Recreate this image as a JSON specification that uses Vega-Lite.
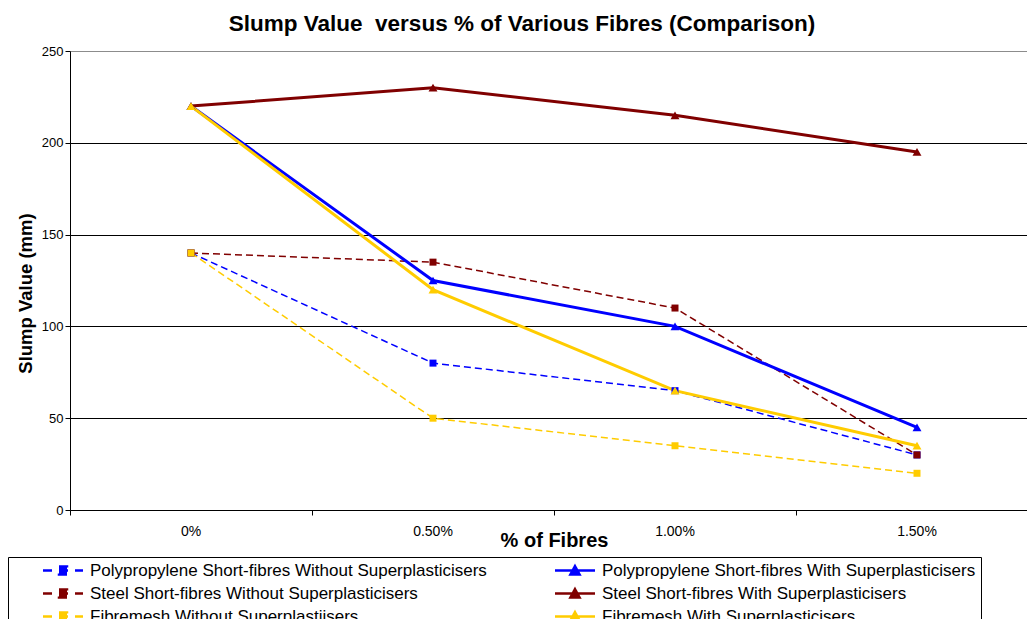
{
  "$schema": "https://vega.github.io/schema/vega-lite/v6.json",
  "width": 957,
  "height": 459,
  "autosize": {"type": "none"},
  "padding": {"left": 70, "top": 51, "right": 0, "bottom": 109},
  "background": "white",
  "config": {
    "font": "Liberation Sans",
    "view": {"stroke": null}
  },
  "title": {
    "text": "Slump Value\u00a0 versus % of Various Fibres (Comparison)",
    "font": "Liberation Sans",
    "fontSize": 22.5,
    "fontWeight": "bold",
    "color": "black",
    "anchor": "middle",
    "frame": "group",
    "dx": -26.5,
    "offset": 10
  },
  "data": {
    "values": [
      {"series": "Polypropylene Short-fibres Without Superplasticisers", "pct": "0%", "slump": 140},
      {"series": "Polypropylene Short-fibres Without Superplasticisers", "pct": "0.50%", "slump": 80},
      {"series": "Polypropylene Short-fibres Without Superplasticisers", "pct": "1.00%", "slump": 65},
      {"series": "Polypropylene Short-fibres Without Superplasticisers", "pct": "1.50%", "slump": 30},
      {"series": "Polypropylene Short-fibres With Superplasticisers", "pct": "0%", "slump": 220},
      {"series": "Polypropylene Short-fibres With Superplasticisers", "pct": "0.50%", "slump": 125},
      {"series": "Polypropylene Short-fibres With Superplasticisers", "pct": "1.00%", "slump": 100},
      {"series": "Polypropylene Short-fibres With Superplasticisers", "pct": "1.50%", "slump": 45},
      {"series": "Steel Short-fibres Without Superplasticisers", "pct": "0%", "slump": 140},
      {"series": "Steel Short-fibres Without Superplasticisers", "pct": "0.50%", "slump": 135},
      {"series": "Steel Short-fibres Without Superplasticisers", "pct": "1.00%", "slump": 110},
      {"series": "Steel Short-fibres Without Superplasticisers", "pct": "1.50%", "slump": 30},
      {"series": "Steel Short-fibres With Superplasticisers", "pct": "0%", "slump": 220},
      {"series": "Steel Short-fibres With Superplasticisers", "pct": "0.50%", "slump": 230},
      {"series": "Steel Short-fibres With Superplasticisers", "pct": "1.00%", "slump": 215},
      {"series": "Steel Short-fibres With Superplasticisers", "pct": "1.50%", "slump": 195},
      {"series": "Fibremesh Without Superplastiisers", "pct": "0%", "slump": 140},
      {"series": "Fibremesh Without Superplastiisers", "pct": "0.50%", "slump": 50},
      {"series": "Fibremesh Without Superplastiisers", "pct": "1.00%", "slump": 35},
      {"series": "Fibremesh Without Superplastiisers", "pct": "1.50%", "slump": 20},
      {"series": "Fibremesh With Superplasticisers", "pct": "0%", "slump": 220},
      {"series": "Fibremesh With Superplasticisers", "pct": "0.50%", "slump": 120},
      {"series": "Fibremesh With Superplasticisers", "pct": "1.00%", "slump": 65},
      {"series": "Fibremesh With Superplasticisers", "pct": "1.50%", "slump": 35}
    ]
  },
  "encoding": {
    "x": {
      "field": "pct",
      "type": "ordinal",
      "sort": ["0%", "0.50%", "1.00%", "1.50%"],
      "scale": {"type": "band", "range": [0, 968], "paddingInner": 0, "paddingOuter": 0},
      "axis": {
        "title": "% of Fibres",
        "titleFontSize": 20,
        "titleFontWeight": "bold",
        "titleColor": "black",
        "titleX": 484,
        "titleY": 36.7,
        "titleAlign": "center",
        "titleBaseline": "alphabetic",
        "labelAngle": 0,
        "labelFontSize": 14,
        "labelColor": "black",
        "labelBaseline": "alphabetic",
        "labelPadding": 20,
        "tickSize": 5,
        "tickColor": "black",
        "domainColor": "black",
        "bandPosition": 0,
        "grid": false
      }
    },
    "y": {
      "field": "slump",
      "type": "quantitative",
      "scale": {"domain": [0, 250], "nice": false},
      "axis": {
        "values": [0, 50, 100, 150, 200, 250],
        "title": "Slump Value (mm)",
        "titleFontSize": 18.5,
        "titleFontWeight": "bold",
        "titleColor": "black",
        "titleAngle": 270,
        "titleX": -45,
        "titleY": 242,
        "titleAlign": "center",
        "titleBaseline": "middle",
        "labelFontSize": 13,
        "labelColor": "black",
        "labelPadding": 2,
        "tickSize": 5,
        "tickColor": "black",
        "domainColor": "black",
        "grid": true,
        "gridColor": {"condition": {"test": "datum.value === 250", "value": "#8c8c8c"}, "value": "#000000"},
        "gridOpacity": 1,
        "gridWidth": 1
      }
    },
    "color": {
      "field": "series",
      "type": "nominal",
      "scale": {
        "domain": [
          "Polypropylene Short-fibres Without Superplasticisers",
          "Polypropylene Short-fibres With Superplasticisers",
          "Steel Short-fibres Without Superplasticisers",
          "Steel Short-fibres With Superplasticisers",
          "Fibremesh Without Superplastiisers",
          "Fibremesh With Superplasticisers"
        ],
        "range": ["#0000ff", "#0000ff", "#800000", "#800000", "#ffcc00", "#ffcc00"]
      },
      "legend": {
        "title": null,
        "orient": "none",
        "direction": "horizontal",
        "legendX": -62,
        "legendY": 506,
        "columns": 2,
        "gridAlign": "all",
        "columnPadding": 38,
        "rowPadding": 5,
        "padding": 5,
        "strokeColor": "black",
        "fillColor": "white",
        "labelFontSize": 17,
        "labelColor": "black",
        "labelLimit": 700,
        "labelOffset": 18.5,
        "symbolOffset": 41.5,
        "symbolSize": 64,
        "symbolStrokeWidth": 2.5,
        "clipHeight": 17,
        "encode": {
          "symbols": {
            "update": {
              "shape": {"signal": "indexof(datum.value, 'Without') >= 0 ? 'M-5,0L5,0M-1,-1L1,-1L1,1L-1,1Z' : 'M-5,0L5,0M0,-1.1L1.15,1L-1.15,1Z'"},
              "strokeDash": {"signal": "indexof(datum.value, 'Without') >= 0 ? [9, 7] : [1, 0]"},
              "fill": {"scale": "color", "field": "value"},
              "stroke": {"scale": "color", "field": "value"},
              "opacity": {"value": 1},
              "fillOpacity": {"value": 1},
              "strokeOpacity": {"value": 1}
            }
          }
        }
      }
    }
  },
  "layer": [
    {
      "transform": [{"filter": "indexof(datum.series, 'Without') >= 0"}],
      "mark": {"type": "line", "strokeDash": [7, 4], "strokeWidth": 1.5}
    },
    {
      "transform": [{"filter": "indexof(datum.series, 'Without') < 0"}],
      "mark": {"type": "line", "strokeWidth": 3}
    },
    {
      "transform": [{"filter": "indexof(datum.series, 'Without') >= 0"}],
      "mark": {"type": "point", "shape": "square", "filled": true, "size": 49, "opacity": 1}
    },
    {
      "transform": [{"filter": "indexof(datum.series, 'Without') < 0"}],
      "mark": {"type": "point", "shape": "triangle-up", "filled": true, "size": 80, "opacity": 1}
    }
  ]
}
